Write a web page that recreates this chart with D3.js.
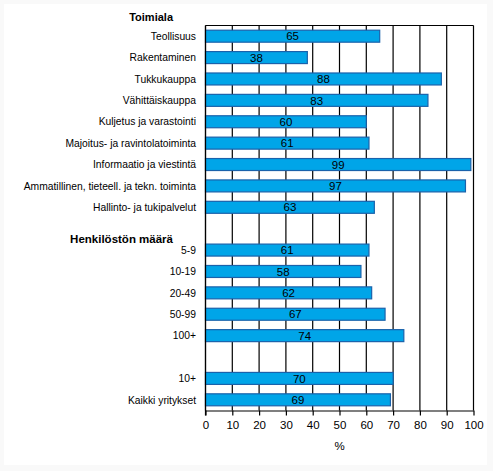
<!DOCTYPE html>
<html><head><meta charset="utf-8">
<script src="https://cdn.jsdelivr.net/npm/d3@7"></script>
<style>
html,body{margin:0;padding:0;background:#f9f9f9;}
svg{display:block;font-family:"Liberation Sans",Arial,sans-serif;}
</style></head>
<body>
<svg id="chart" width="493" height="471"></svg>
<script>
// ---- data ----
const industryHeader = "Toimiala";
const industryLabels = ["Teollisuus","Rakentaminen","Tukkukauppa","Vähittäiskauppa","Kuljetus ja varastointi","Majoitus- ja ravintolatoiminta","Informaatio ja viestintä","Ammatillinen, tieteell. ja tekn. toiminta","Hallinto- ja tukipalvelut"];
const industryValues = [65,38,88,83,60,61,99,97,63];
const sizeHeader = "Henkilöstön määrä";
const sizeLabels = ["5-9","10-19","20-49","50-99","100+"];
const sizeValues = [61,58,62,67,74];
const totalLabels = ["10+","Kaikki yritykset"];
const totalValues = [70,69];
const xTicks = [0,10,20,30,40,50,60,70,80,90,100];
const xTitle = "%";

// ---- build slots ----
const slots = [];
industryLabels.forEach((l,i)=>slots.push({id:"a"+i,label:l,value:industryValues[i]}));
slots.push({id:"gap1",label:"",value:null});
sizeLabels.forEach((l,i)=>slots.push({id:"b"+i,label:l,value:sizeValues[i]}));
slots.push({id:"gap2",label:"",value:null});
totalLabels.forEach((l,i)=>slots.push({id:"c"+i,label:l,value:totalValues[i]}));

const svg = d3.select("#chart");
svg.append("rect").attr("x",4).attr("y",4).attr("width",483).attr("height",461).attr("fill","#fff");

const pL=205.5, pR=473.5, pT=25.5, pB=410.5;
const x = d3.scaleLinear().domain([0,100]).range([pL,pR]);
const y = d3.scaleBand().domain(slots.map(d=>d.id)).range([pT,pB]).paddingInner(0.44).paddingOuter(0.22);

// gridlines
svg.append("g").selectAll("line").data(xTicks).join("line")
  .attr("x1",d=>x(d)).attr("x2",d=>x(d))
  .attr("y1",pT).attr("y2",pB).attr("stroke","#000").attr("stroke-width",1.2);
svg.append("line").attr("x1",pL).attr("x2",pR).attr("y1",pT).attr("y2",pT).attr("stroke","#000").attr("stroke-width",1.2);

// bars
const bars = slots.filter(d=>d.value!==null);
svg.append("g").selectAll("rect").data(bars).join("rect")
  .attr("x",x(0)).attr("y",d=>y(d.id)).attr("width",d=>x(d.value)-x(0)).attr("height",y.bandwidth())
  .attr("fill","#00a5e8").attr("stroke","#1a62ab").attr("stroke-width",1.2);

// value labels
svg.append("g").selectAll("text").data(bars).join("text")
  .attr("x",d=>(x(0)+x(d.value))/2).attr("y",d=>y(d.id)+y.bandwidth()/2)
  .attr("dy","0.36em").attr("text-anchor","middle").attr("font-size",11.5).attr("fill","#000")
  .text(d=>d.value);

// category labels
svg.append("g").selectAll("text").data(bars).join("text")
  .attr("x",196).attr("y",d=>y(d.id)+y.bandwidth()/2)
  .attr("dy","0.36em").attr("text-anchor","end").attr("font-size",10.3).attr("fill","#000")
  .text(d=>d.label);

// headers
svg.append("text").attr("x",173).attr("y",17).attr("dy","0.36em").attr("text-anchor","end")
  .attr("font-size",11).attr("font-weight","bold").text(industryHeader);
svg.append("text").attr("x",173).attr("y",239).attr("dy","0.36em").attr("text-anchor","end")
  .attr("font-size",11.5).attr("font-weight","bold").text(sizeHeader);

// bottom axis
const ax = svg.append("g").attr("transform",`translate(0,${pB})`)
  .call(d3.axisBottom(x).tickValues(xTicks).tickSize(5).tickSizeOuter(0).tickPadding(5));
ax.select(".domain").attr("stroke","#000").attr("stroke-width",1.2);
ax.selectAll(".tick line").attr("stroke","#000").attr("stroke-width",1.2);
ax.selectAll("text").attr("font-size",11.5).attr("font-family","Liberation Sans, Arial, sans-serif").attr("fill","#000");

// left axis line
svg.append("line").attr("x1",pL).attr("x2",pL).attr("y1",pT).attr("y2",pB+5).attr("stroke","#000").attr("stroke-width",1.2);

svg.append("text").attr("x",(pL+pR)/2).attr("y",446).attr("dy","0.36em").attr("text-anchor","middle")
  .attr("font-size",11.5).text(xTitle);
</script>
</body></html>
